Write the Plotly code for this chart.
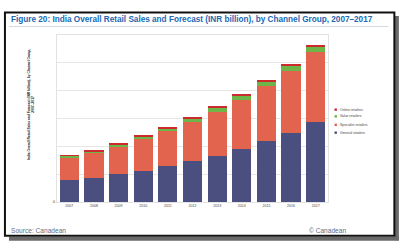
import plotly.graph_objects as go

years = ["2007", "2008", "2009", "2010", "2011", "2012", "2013", "2014", "2015", "2016", "2017"]
general = [7800, 8800, 9900, 11300, 12800, 14600, 16700, 19000, 21800, 24700, 28700]
specialist = [8200, 8700, 9800, 11300, 12600, 14300, 15800, 17800, 19900, 22400, 25100]
value = [600, 800, 900, 1000, 1100, 1100, 1300, 1500, 1500, 1900, 2000]
online = [200, 300, 400, 300, 300, 400, 500, 300, 300, 300, 600]

series = [
    ("General retailers", general, "#4B4F80"),
    ("Specialist retailers", specialist, "#E2634E"),
    ("Value retailers", value, "#6DB548"),
    ("Online retailers", online, "#CC2A2C"),
]

W, H = 400, 248
L, R, T, B = 57, 327.7, 35, 201.7

def px(x):
    return (x - L) / (R - L)

def py(y):
    return (B - y) / (B - T)

fig = go.Figure()
for name, vals, col in series:
    fig.add_trace(go.Bar(x=years, y=vals, name=name, marker_color=col,
                         marker_line_width=0, showlegend=False))

fig.update_layout(
    width=W, height=H,
    margin=dict(l=L, r=W - R, t=T, b=H - B),
    barmode="stack", bargap=0.22,
    paper_bgcolor="white", plot_bgcolor="white",
    font=dict(family="Liberation Sans, Arial, sans-serif", color="#333333"),
    xaxis=dict(showgrid=False, ticks="", tickfont=dict(size=3.6, color="#444"),
               showline=True, linecolor="#e2e2e2", mirror=True, linewidth=1),
    yaxis=dict(range=[0, 60000], tickvals=[0, 10000, 20000, 30000, 40000, 50000, 60000],
               ticktext=["0", "", "", "", "", "", ""], tickfont=dict(size=4.2, color="#444"),
               gridcolor="#e6e6e6", gridwidth=1, zeroline=False, ticks="",
               showline=True, linecolor="#e2e2e2", mirror=True, linewidth=1),
)

annotations = []
shapes = []

# title
annotations.append(dict(xref="paper", yref="paper", x=px(9), y=py(19.5), xanchor="left", yanchor="middle",
                        text="<b>Figure 20: India Overall Retail Sales and Forecast (INR billion), by Channel Group, 2007\u20132017</b>",
                        showarrow=False, font=dict(size=8.2, color="#2167B2", family="Liberation Sans, Arial, sans-serif")))
shapes.append(dict(type="line", xref="paper", yref="paper", x0=px(9), x1=px(388), y0=py(26.5), y1=py(26.5),
                   line=dict(color="#d5dbe2", width=1)))

# y-axis title
annotations.append(dict(xref="paper", yref="paper", x=px(31), y=py(104), xanchor="center", yanchor="middle",
                        text="<b>India Overall Retail Sales and Forecast (INR billion), by Channel Group,<br>2007\u20132017</b>",
                        textangle=-90, showarrow=False,
                        font=dict(size=3.3, color="#222222", family="Liberation Sans, Arial, sans-serif")))

# legend (manual)
leg_rows = [("Online retailers", "#CC2A2C", 109.5), ("Value retailers", "#6DB548", 116.2),
            ("Specialist retailers", "#E2634E", 124.7), ("General retailers", "#4B4F80", 132.5)]
for name, col, yy in leg_rows:
    shapes.append(dict(type="rect", xref="paper", yref="paper", x0=px(334.2), x1=px(336.6),
                       y0=py(yy + 1.2), y1=py(yy - 1.2), fillcolor=col, line=dict(width=0)))
    annotations.append(dict(xref="paper", yref="paper", x=px(337.3), y=py(yy), xanchor="left", yanchor="middle",
                            text=name, showarrow=False,
                            font=dict(size=3.4, color="#444444", family="Liberation Sans, Arial, sans-serif")))

# source texts
annotations.append(dict(xref="paper", yref="paper", x=px(9), y=py(230.5), xanchor="left", yanchor="middle",
                        text="Source: Canadean", showarrow=False,
                        font=dict(size=6.6, color="#5B6E86", family="Liberation Sans, Arial, sans-serif")))
annotations.append(dict(xref="paper", yref="paper", x=px(307), y=py(230.5), xanchor="left", yanchor="middle",
                        text="\u00a9 Canadean", showarrow=False,
                        font=dict(size=6.6, color="#5B6E86", family="Liberation Sans, Arial, sans-serif")))

# frame shadow and border
shapes.append(dict(type="line", xref="paper", yref="paper", x0=px(396.5), x1=px(396.5), y0=py(16), y1=py(240),
                   line=dict(color="#6a6a6a", width=4)))
shapes.append(dict(type="line", xref="paper", yref="paper", x0=px(9), x1=px(398.5), y0=py(238.5), y1=py(238.5),
                   line=dict(color="#6a6a6a", width=4)))
shapes.append(dict(type="rect", xref="paper", yref="paper", x0=px(5), x1=px(394), y0=py(12.5), y1=py(235.5),
                   line=dict(color="#111111", width=2)))

fig.update_layout(annotations=annotations, shapes=shapes)
fig.write_html("out.html")
